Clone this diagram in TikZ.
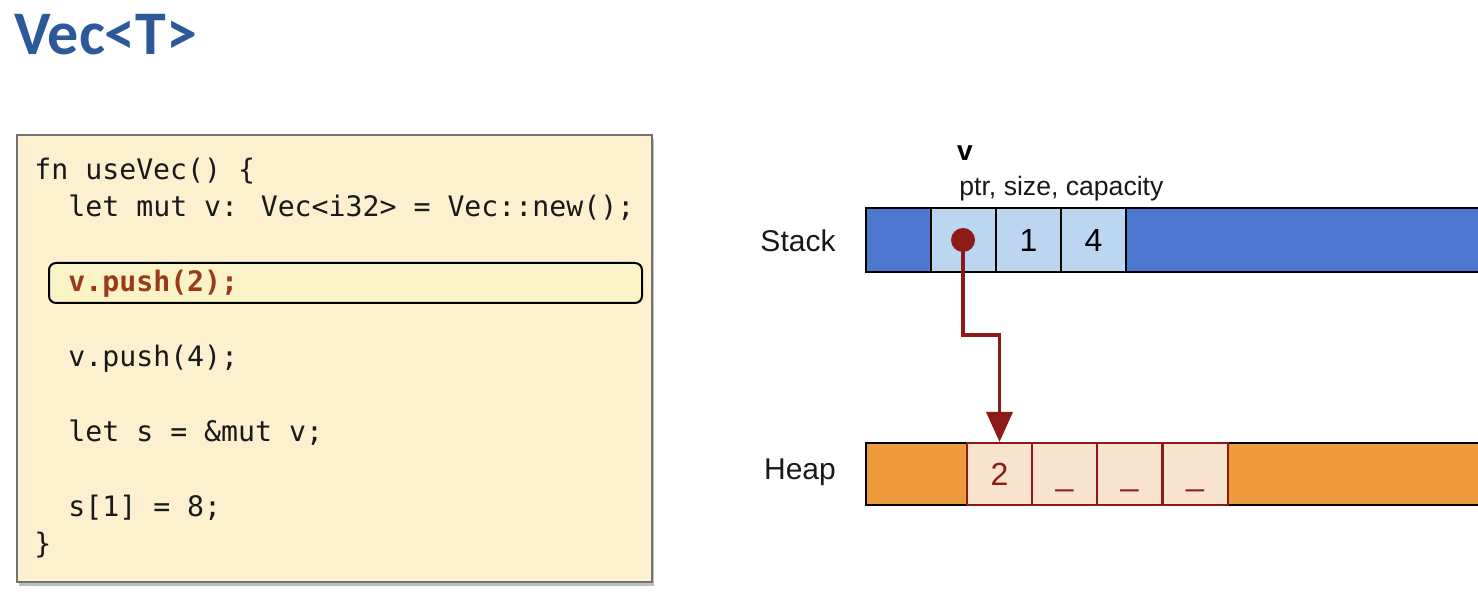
\documentclass[tikz,border=0pt]{standalone}
\usepackage{fontspec}
\setmainfont{Liberation Sans}
\newfontfamily\codefont{DejaVu Sans Mono}
\newfontfamily\titlefont{Carlito}
\usetikzlibrary{arrows.meta,calc}

\definecolor{titleblue}{HTML}{2D5999}
\definecolor{codebg}{HTML}{FCF0CE}
\definecolor{hlbg}{HTML}{FAF3C5}
\definecolor{hltext}{HTML}{9A3A1C}
\definecolor{stackdark}{HTML}{4E78CF}
\definecolor{stacklight}{HTML}{BCD6F1}
\definecolor{heapdark}{HTML}{EE9B3D}
\definecolor{heaplight}{HTML}{F8E3CF}
\definecolor{ptrred}{HTML}{8C1A16}

\begin{document}
\begin{tikzpicture}[x=0.5pt,y=-0.5pt,
  codeline/.style={anchor=base west, inner sep=0pt, text=black!90,
                   font=\codefont\fontsize{14.1}{17}\selectfont},
  memlabel/.style={font=\fontsize{15}{18}\selectfont, text=black!90, inner sep=0pt},
  bar/.style={draw=black, line width=1pt, inner sep=0pt, minimum height=32pt},
  scell/.style={draw=black, line width=1pt, fill=stacklight, inner sep=0pt,
                minimum height=32pt, minimum width=32.5pt,
                font=\fontsize{16}{19}\selectfont},
  hcell/.style={draw=ptrred, line width=1pt, fill=heaplight, inner sep=0pt,
                minimum height=31pt, minimum width=32.5pt},
  hval/.style={anchor=base, inner sep=0pt, text=ptrred,
               font=\fontsize{16}{19}\selectfont},
  ptrline/.style={draw=ptrred, line width=1.8pt}
]
\useasboundingbox (0,0) rectangle (1478,608);
\clip (0,0) rectangle (1478,608);

% title
\node[anchor=base west, inner sep=0pt, text=titleblue,
      font=\titlefont\bfseries\fontsize{31}{37}\selectfont] (title) at (14,55) {Vec<T>};

% code panel with a soft drop shadow
\fill[black!25] (19,139) rectangle (654,586);
\node[draw=black!55, line width=0.6pt, fill=codebg, inner sep=0pt,
      minimum width=317.5pt, minimum height=223.5pt] (codebox) at (334.5,358.5) {};
\node[draw=black, line width=1pt, fill=hlbg, rounded corners=3.5pt, inner sep=0pt,
      minimum width=296.5pt, minimum height=20pt] (hl) at (345.5,283) {};

\node[codeline] (l1) at (34,180) {fn useVec() \{};
\node[codeline] (l2) at (68,217) {let mut v: Vec<i32> = Vec::new();};
\node[codeline, text=hltext, font=\codefont\bfseries\fontsize{14.1}{17}\selectfont] (l3) at (68,292) {v.push(2);};
\node[codeline] (l4) at (68,367) {v.push(4);};
\node[codeline] (l5) at (68,442) {let s = \&mut v;};
\node[codeline] (l6) at (68,517) {s[1] = 8;};
\node[codeline] (l7) at (34,554) {\}};

% stack
\node[memlabel] (stacklbl) at (798,241) {Stack};
\node[bar, fill=stackdark, anchor=west, minimum width=320pt] (stackbar) at (865,240) {};
\node[scell] (sptr) at (963,240) {};
\node[scell] (ssize) at (1028.5,240) {1};
\node[scell] (scap) at (1093.5,240) {4};
\node[inner sep=0pt, font=\bfseries\fontsize{14}{17}\selectfont] (vname) at (965,153) {v};
\node[anchor=west, inner sep=0pt, text=black!90, font=\fontsize{13.3}{16}\selectfont]
  (fields) at (959,189) {ptr, size, capacity};

% heap
\node[memlabel] (heaplbl) at (800,472) {Heap};
\node[bar, fill=heapdark, anchor=west, minimum height=31pt, minimum width=320pt] (heapbar) at (865,474) {};
\node[hcell] (h1) at (999.5,474) {};
\node[hcell] (h2) at (1064.5,474) {};
\node[hcell] (h3) at (1129.5,474) {};
\node[hcell] (h4) at (1195,474) {};
\node[hval] (v1) at (999.5,486) {2};
\node[hval] (v2) at (1064.5,486) {\_};
\node[hval] (v3) at (1129.5,486) {\_};
\node[hval] (v4) at (1195,486) {\_};

% pointer from v.ptr to the first heap slot
\node[circle, fill=ptrred, inner sep=0pt, minimum size=12pt] (dot) at (sptr.center) {};
\coordinate (bend) at (963,335);
\draw[ptrline, -{Triangle[width=13pt,length=15pt]}] (dot.center) -- (bend) -| (h1.north);
\end{tikzpicture}
\end{document}
